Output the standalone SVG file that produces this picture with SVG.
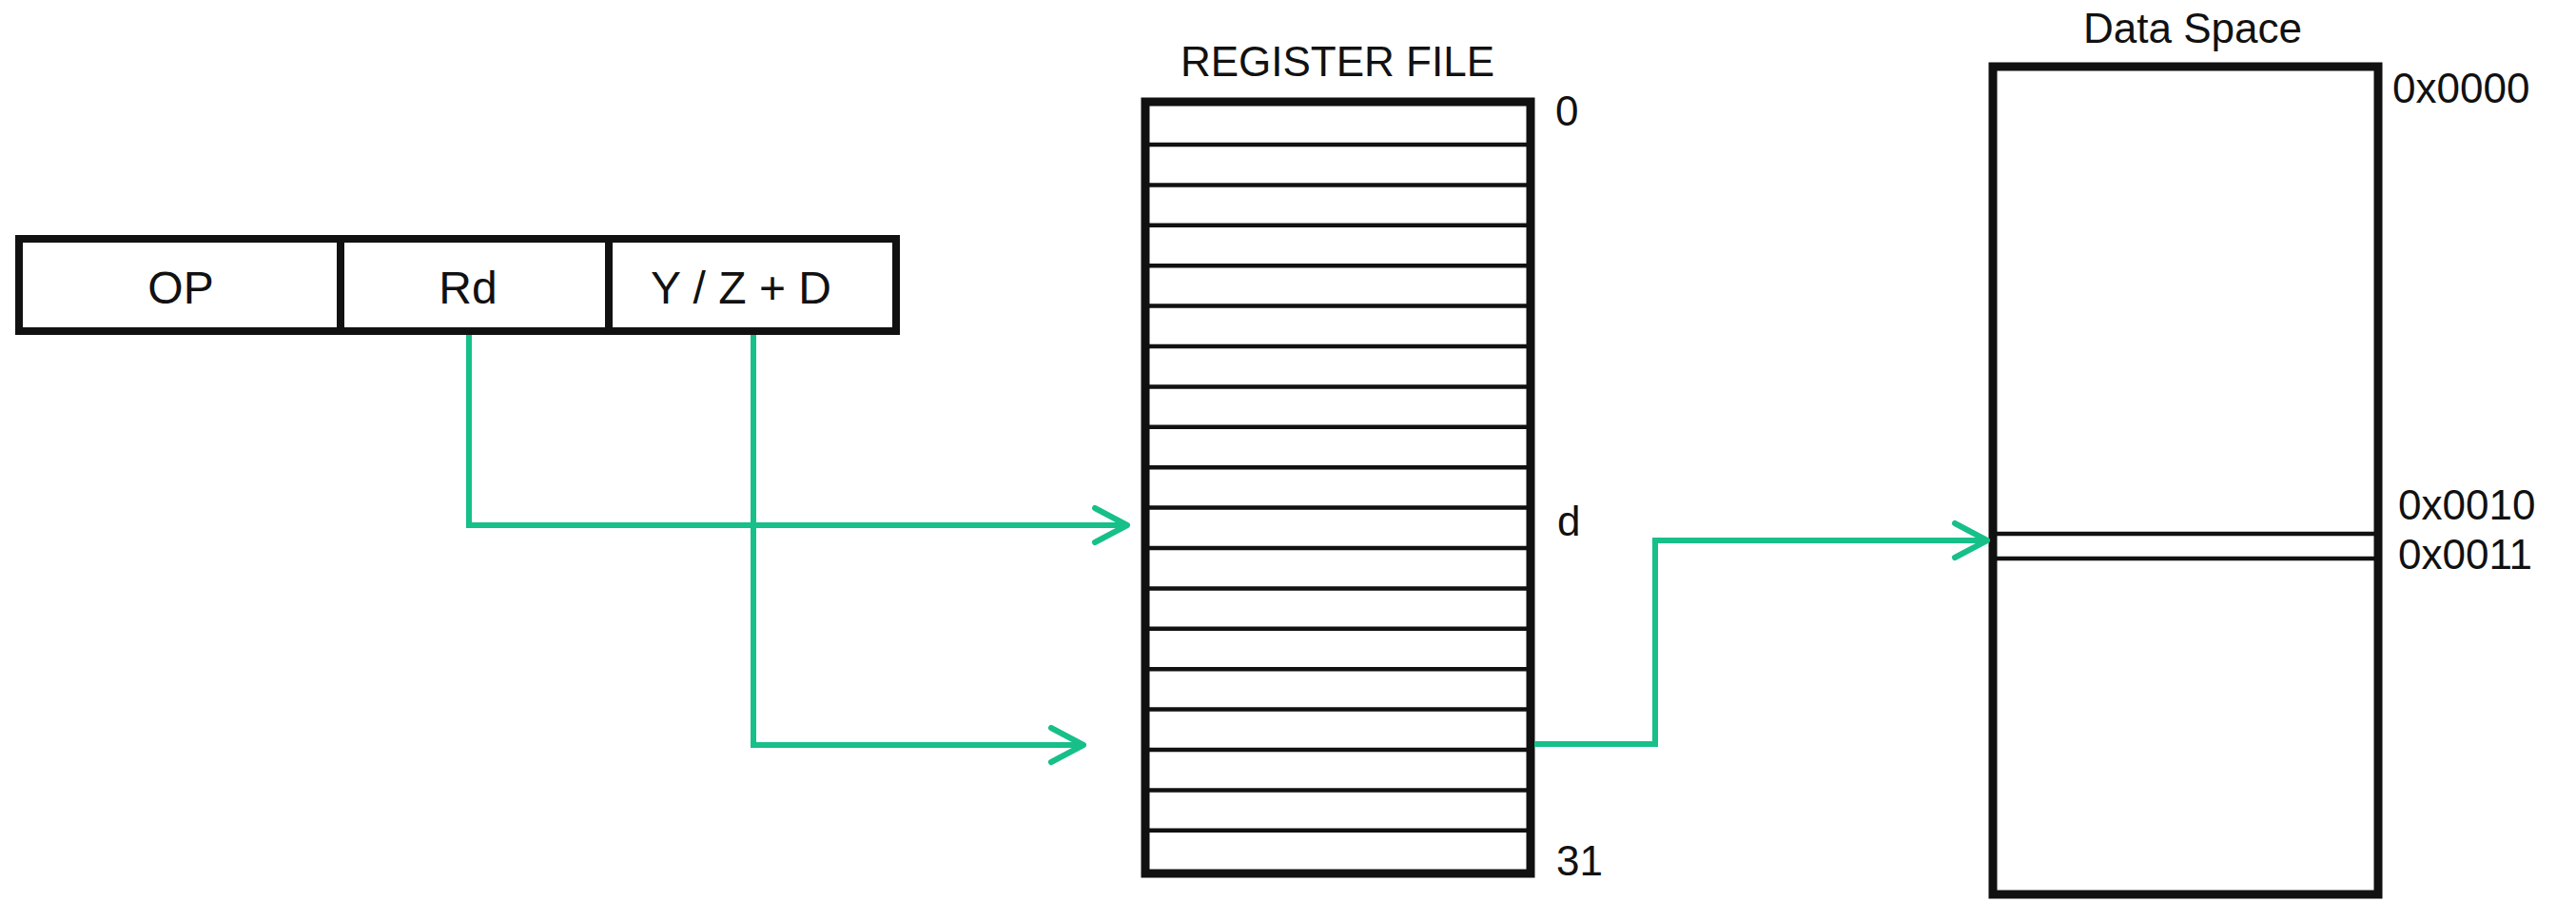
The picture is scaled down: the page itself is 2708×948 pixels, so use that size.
<svg xmlns="http://www.w3.org/2000/svg" width="2708" height="948" viewBox="0 0 2708 948">
  <style>
    .box { fill: #ffffff; stroke: #111111; }
    .rowline { stroke: #111111; stroke-width: 4.5; }
    .lbl { font-family: "Liberation Sans", Arial, sans-serif; font-size: 44px; fill: #111111; }
    .big { font-size: 48px; }
    .mid { text-anchor: middle; }
    .conn { fill: none; stroke: #17bf89; stroke-width: 6; stroke-linejoin: miter; }
  </style>
  <defs>
    <marker id="arrow" markerUnits="userSpaceOnUse" markerWidth="60" markerHeight="60" viewBox="-45 -30 60 60" refX="0" refY="0" orient="auto" overflow="visible">
      <path d="M -34 -18 L 0 0 L -34 18" fill="none" stroke="#17bf89" stroke-width="6" stroke-linecap="round" stroke-linejoin="round"/>
    </marker>
  </defs>
  <rect width="2708" height="948" fill="#ffffff"/>

  <g id="instruction">
    <rect class="box" x="20" y="251" width="922" height="97" stroke-width="8"/>
    <line x1="358" y1="251" x2="358" y2="348" stroke="#111111" stroke-width="8"/>
    <line x1="640" y1="251" x2="640" y2="348" stroke="#111111" stroke-width="8"/>
    <text class="lbl big mid" x="190" y="319">OP</text>
    <text class="lbl big mid" x="492" y="319">Rd</text>
    <text class="lbl big mid" x="779" y="319">Y / Z + D</text>
  </g>

  <g id="register-file">
    <text class="lbl mid" x="1406" y="80" font-size="45">REGISTER FILE</text>
    <rect class="box" x="1204" y="107" width="405" height="811" stroke-width="9"/>
    <g class="rows">
      <line class="rowline" x1="1204" x2="1609" y1="152" y2="152"/>
      <line class="rowline" x1="1204" x2="1609" y1="194.4" y2="194.4"/>
      <line class="rowline" x1="1204" x2="1609" y1="236.8" y2="236.8"/>
      <line class="rowline" x1="1204" x2="1609" y1="279.2" y2="279.2"/>
      <line class="rowline" x1="1204" x2="1609" y1="321.6" y2="321.6"/>
      <line class="rowline" x1="1204" x2="1609" y1="364" y2="364"/>
      <line class="rowline" x1="1204" x2="1609" y1="406.4" y2="406.4"/>
      <line class="rowline" x1="1204" x2="1609" y1="448.8" y2="448.8"/>
      <line class="rowline" x1="1204" x2="1609" y1="491.2" y2="491.2"/>
      <line class="rowline" x1="1204" x2="1609" y1="533.6" y2="533.6"/>
      <line class="rowline" x1="1204" x2="1609" y1="576" y2="576"/>
      <line class="rowline" x1="1204" x2="1609" y1="618.4" y2="618.4"/>
      <line class="rowline" x1="1204" x2="1609" y1="660.8" y2="660.8"/>
      <line class="rowline" x1="1204" x2="1609" y1="703.2" y2="703.2"/>
      <line class="rowline" x1="1204" x2="1609" y1="745.6" y2="745.6"/>
      <line class="rowline" x1="1204" x2="1609" y1="788" y2="788"/>
      <line class="rowline" x1="1204" x2="1609" y1="830.4" y2="830.4"/>
      <line class="rowline" x1="1204" x2="1609" y1="872.8" y2="872.8"/>
    </g>
    <text class="lbl" x="1635" y="132">0</text>
    <text class="lbl" x="1637" y="563">d</text>
    <text class="lbl" x="1636" y="920">31</text>
  </g>

  <g id="data-space">
    <text class="lbl mid" x="2305" y="45">Data Space</text>
    <rect class="box" x="2095" y="70" width="405" height="870" stroke-width="9"/>
    <line class="rowline" x1="2095" x2="2500" y1="561" y2="561" stroke-width="4"/>
    <line class="rowline" x1="2095" x2="2500" y1="587" y2="587" stroke-width="4"/>
    <text class="lbl" x="2515" y="108">0x0000</text>
    <text class="lbl" x="2521" y="546" font-size="45">0x0010</text>
    <text class="lbl" x="2521" y="598" font-size="45">0x0011</text>
  </g>

  <g id="connectors">
    <polyline class="conn" points="493,352 493,552 1185,552" marker-end="url(#arrow)"/>
    <polyline class="conn" points="792,352 792,783 1139,783" marker-end="url(#arrow)"/>
    <polyline class="conn" points="1613,782 1740,782 1740,568 2089,568" marker-end="url(#arrow)"/>
  </g>
</svg>
